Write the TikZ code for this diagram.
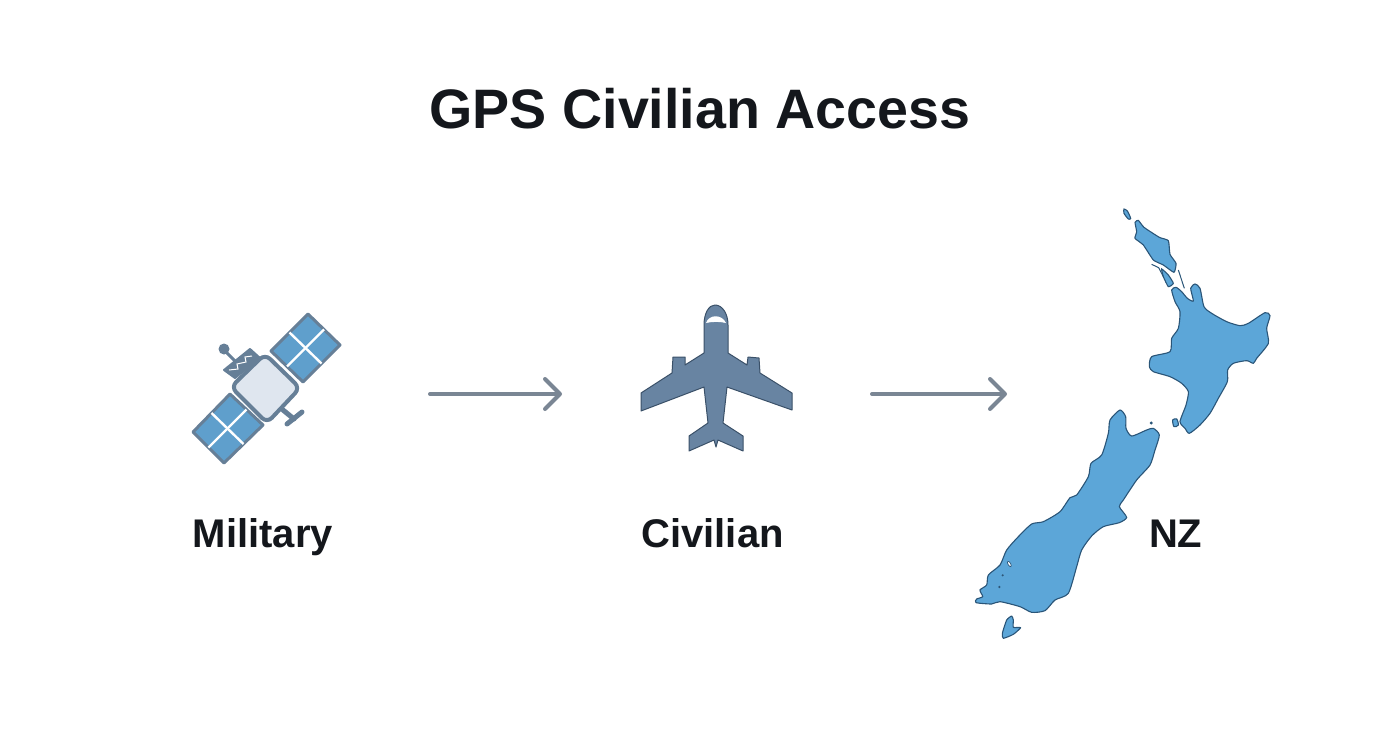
\documentclass[tikz,border=0pt]{standalone}
\usepackage{fontspec}
\setmainfont{Liberation Sans}
\usetikzlibrary{
  arrows.meta,
  calc,
  positioning
}
\definecolor{inkblack}{HTML}{14171C}
\definecolor{arrowgrey}{HTML}{7A8694}
\definecolor{steel}{HTML}{667F97}
\definecolor{steeldark}{HTML}{3A5068}
\definecolor{planeblue}{HTML}{6884A2}
\definecolor{panelblue}{HTML}{5F9FCC}
\definecolor{bodypale}{HTML}{DFE6EF}
\definecolor{landblue}{HTML}{5CA6D8}
\definecolor{landedge}{HTML}{2A5578}
\tikzset{
  x = 1pt,
  y = -1pt,
  >={Straight Barb[length=15pt, width=30pt, round]},
  heading/.style = {font=\fontsize{55.6}{60}\selectfont\bfseries, text=inkblack},
  caption/.style = {font=\fontsize{40}{46}\selectfont\bfseries, text=inkblack,
    text height=29pt, text depth=0pt, inner sep=0pt},
  flow/.style = {->, draw=arrowgrey, line width=4pt, line cap=round},
  panel/.style = {fill=panelblue, draw=steel, line width=3pt, line join=round},
  panelcross/.style = {draw=white, line width=2.4pt},
  hull/.style = {fill=bodypale, draw=steel, line width=4pt, rounded corners=7pt},
  bus/.style = {draw=steel, line width=5pt, line cap=round},
  aircraft/.style = {fill=planeblue, draw=steeldark, line width=1pt, line join=round},
  land/.style = {fill=landblue, draw=landedge, line width=1.1pt},
}

\begin{document}
\begin{tikzpicture}
  \useasboundingbox (0,0) rectangle (1392,752);
  \node[heading] (title) at (700,109) {GPS Civilian Access};
  \node[caption] (military) at (263,533) {Military};
  \node[caption, right=308pt of military] (civilian) {Civilian};
  \node[caption, right=365pt of civilian] (nz) {NZ};

  % arrows
  \coordinate (satout) at (430,394);
  \coordinate (planein) at (562,394);
  \coordinate (planeout) at (872,394);
  \coordinate (nzin) at (1007,394);
  \draw[flow] (satout) -- (planein);
  \draw[flow] (planeout) -- (nzin);

  % satellite
  \draw[draw=steel, line width=3pt] (224,350) -- (236,362);
  \fill[steel] (224,349) circle (5.5pt);
  \draw[bus] (283,410) -- (294,419);
  \draw[bus] (287,424) -- (302,412);
  \draw[fill=steel, draw=steel, line width=2pt, line join=round]
    (250,349) -- (260,358) -- (235,378) -- (224,370) -- cycle;
  \draw[white, line width=1pt] (229,370) -- (238,369) -- (237,364) -- (246,362) -- (245,357) -- (252,356);
  \foreach \pa/\pb/\pc/\pd in {308/314/340/345, 230/394/263/425}{
    \ifnum\pa=308
      \coordinate (p1) at (308,314);
      \coordinate (p2) at (340,345);
      \coordinate (p3) at (303,382);
      \coordinate (p4) at (271,351);
    \else
      \coordinate (p1) at (230,394);
      \coordinate (p2) at (263,425);
      \coordinate (p3) at (224,463);
      \coordinate (p4) at (193,432);
    \fi
    \draw[panel] (p1) -- (p2) -- (p3) -- (p4) -- cycle;
    \draw[panelcross] ($(p1)!0.5!(p2)$) -- ($(p4)!0.5!(p3)$);
    \draw[panelcross] ($(p1)!0.5!(p4)$) -- ($(p2)!0.5!(p3)$);
  }
  \draw[hull] (265,354) -- (300,388) -- (267,423) -- (231,387) -- cycle;

  % plane
  \draw[aircraft] (704,353) -- (704,325) .. controls (704,313) and (709,305) .. (715,305)
    .. controls (722,305) and (728,313) .. (728,325) -- (728,353) -- (747,365) -- (748,357)
    -- (759,358) -- (760,373) -- (792,393) -- (792,410) -- (727,387) -- (723,423)
    -- (743,436) -- (743,451) -- (718,440) -- (716,447) -- (714,440) -- (689,451)
    -- (689,436) -- (708,423) -- (704,387) -- (641,411) -- (641,393) -- (672,373)
    -- (673,357) -- (685,357) -- (685,365) -- cycle;
  \fill[white] (706,323) .. controls (709,314) and (722,314) .. (726,323)
    .. controls (720,321.5) and (712,321.5) .. (706,323) -- cycle;

  % north island
  \begin{scope}[shift={(1100,195)}, scale=1/3]
    \draw[land] plot[smooth cycle, tension=0.4] coordinates {(72,42) (82,48) (92,70) (85,72) (72,55)};
    \draw[land, line join=round] plot[smooth cycle, tension=0.3] coordinates {(105,82) (115,76) (132,97)
      (178,127) (205,137) (210,178) (228,205) (222,232) (190,210) (160,195) (130,150) (105,130) (110,110)};
    \draw[land] plot[smooth cycle, tension=0.3] coordinates {(185,222) (205,240) (220,265) (205,275) (190,245)};
    \draw[landedge, line width=1pt] (235,225) -- (253,280);
    \draw[landedge, line width=1pt] (155,208) -- (176,218) -- (190,245);
    \draw[land] plot[smooth cycle, tension=0.4] coordinates {(215,285) (228,277) (245,290) (262,310)
      (280,318) (272,280) (285,267) (300,280) (312,335) (335,355) (380,380) (420,392) (445,385)
      (495,353) (510,362) (500,400) (505,445) (470,490) (460,505) (440,497) (400,505) (383,525)
      (382,560) (355,610) (330,655) (300,690) (268,715) (255,700) (240,680) (258,630) (265,590)
      (245,565) (210,545) (160,530) (148,515) (155,485) (210,470) (215,430) (235,400) (240,350) (225,320)};
    \draw[land] plot[smooth cycle, tension=0.5] coordinates {(218,675) (230,672) (235,690) (222,695)};
    \draw[land] (154,684) circle (2.5pt);
  \end{scope}

  % south island
  \begin{scope}[shift={(960,400)}, scale=1/3]
    \draw[land] plot[smooth cycle, tension=0.4] coordinates {(450,60) (480,30) (497,50) (498,85) (515,108)
      (560,90) (580,85) (598,105) (585,150) (570,195) (530,240) (490,300) (478,320) (500,352)
      (478,368) (430,380) (395,408) (365,450) (350,500) (325,580) (285,600) (255,632) (215,637)
      (180,620) (120,605) (95,612) (48,608) (50,597) (68,590) (60,570) (80,555) (85,525) (120,495)
      (140,450) (175,410) (215,372) (250,365) (300,335) (330,293) (350,285) (385,230) (393,190)
      (425,165) (445,100)};
    \draw[fill=white, draw=landedge, line width=0.7pt, rotate around={-60:(148,492)}] (148,492) ellipse (9 and 4);
    \draw[fill=white, draw=landedge, line width=0.7pt] (128,526) circle (2pt);
    \draw[fill=white, draw=landedge, line width=0.7pt] (118,561) circle (2.5pt);
    \draw[land, line join=round] plot[smooth cycle, tension=0.3] coordinates {(155,648) (160,660) (160,682)
      (182,683) (160,703) (130,715) (127,700) (140,660)};
  \end{scope}
\end{tikzpicture}
\end{document}
